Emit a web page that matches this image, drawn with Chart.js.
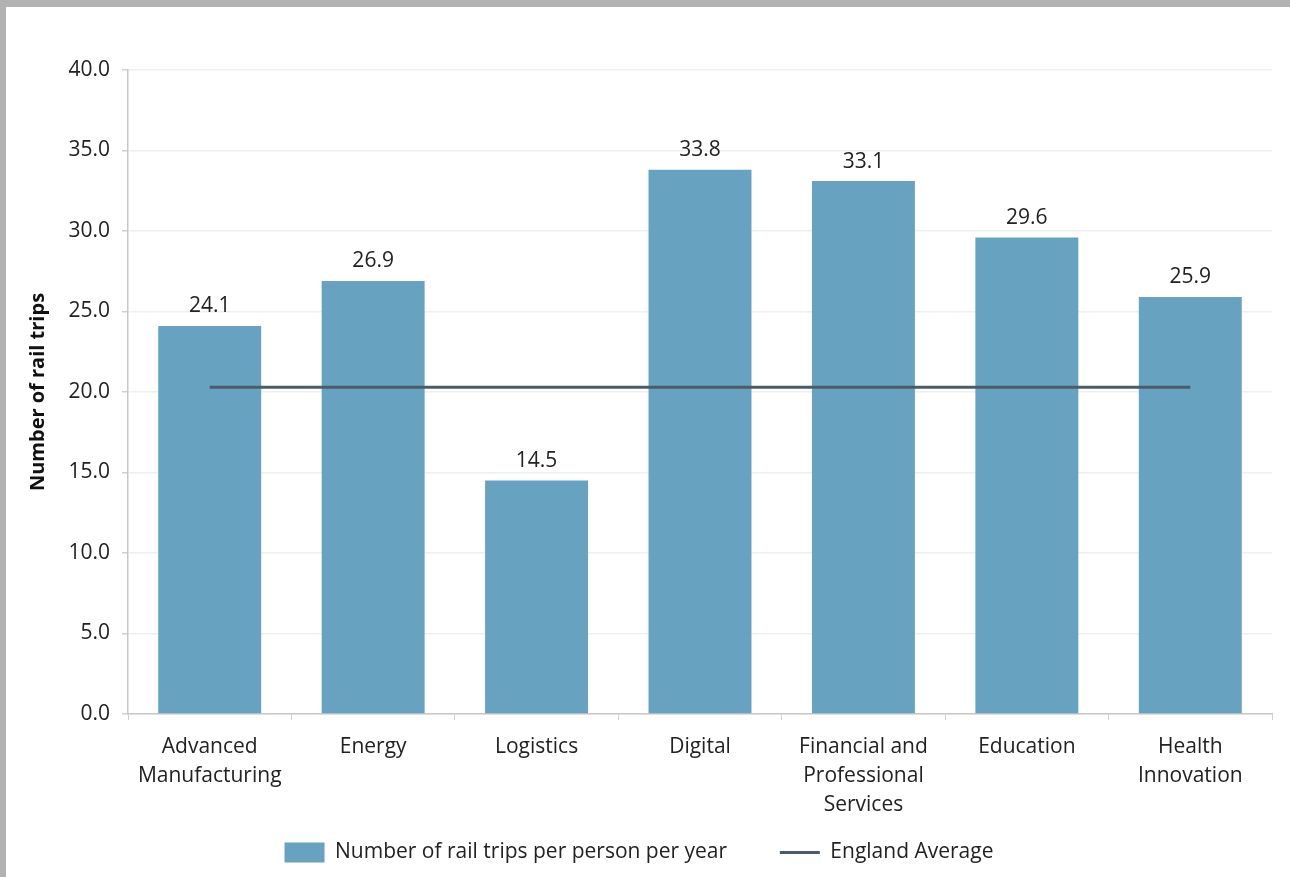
<!DOCTYPE html>
<html>
<head>
<meta charset="utf-8">
<script src="https://cdn.jsdelivr.net/npm/chart.js@4"></script>
<style>
  html, body { margin: 0; padding: 0; background: #b2b2b2; }
  #frame { position: absolute; left: 6px; top: 7px; width: 1284px; height: 870px; background: #fff; }
</style>
</head>
<body>
<div id="frame"><canvas id="myChart" width="1284" height="870"></canvas></div>
<script>
const categories = [
  ["Advanced", "Manufacturing"],
  "Energy",
  "Logistics",
  "Digital",
  ["Financial and", "Professional", "Services"],
  "Education",
  ["Health", "Innovation"]
];
const railTrips = [24.1, 26.9, 14.5, 33.8, 33.1, 29.6, 25.9];
const englandAverage = [20.3, 20.3, 20.3, 20.3, 20.3, 20.3, 20.3];

const FONT = "'Open Sans', 'Noto Sans', sans-serif";

// values above the bars
const barLabels = {
  id: 'barLabels',
  afterDatasetsDraw(chart) {
    const ctx = chart.ctx;
    const meta = chart.getDatasetMeta(0);
    ctx.save();
    ctx.font = "21px " + FONT;
    ctx.fillStyle = "#222";
    ctx.textAlign = "center";
    ctx.textBaseline = "bottom";
    meta.data.forEach((bar, i) => {
      ctx.fillText(railTrips[i].toFixed(1), bar.x, bar.y - 9);
    });
    ctx.restore();
  }
};

const ctx = document.getElementById('myChart').getContext('2d');
new Chart(ctx, {
  type: 'bar',
  data: {
    labels: categories,
    datasets: [{
      type: 'bar',
      label: "Number of rail trips per person per year",
      data: railTrips,
      backgroundColor: "#67a3c1",
      borderWidth: 0,
      barPercentage: 0.63,
      categoryPercentage: 1,
      pointStyle: 'rect',
      order: 2
    }, {
      type: 'line',
      label: "England Average",
      data: englandAverage,
      borderColor: "#4a5c68",
      backgroundColor: "#4a5c68",
      borderWidth: 3,
      pointRadius: 0,
      pointStyle: 'line',
      fill: false,
      order: 1
    }]
  },
  options: {
    responsive: false,
    animation: false,
    layout: { padding: { top: 63, right: 18, left: 0, bottom: 4 } },
    plugins: {
      tooltip: { enabled: false },
      legend: {
        position: 'bottom',
        reverse: true,
        labels: {
          usePointStyle: true,
          pointStyleWidth: 40,
          boxHeight: 20,
          padding: 20,
          color: "#222",
          font: { family: FONT, size: 21 },
          generateLabels(chart) {
            const items = Chart.defaults.plugins.legend.labels.generateLabels(chart);
            // wider gap after the bar entry, like the original
            items.forEach(it => { if (it.datasetIndex === 0) it.text += "      "; });
            return items;
          }
        }
      }
    },
    scales: {
      x: {
        grid: { display: true, drawOnChartArea: false, offset: true, tickLength: 6, color: "#d0d0d0" },
        border: { color: "#c8c8c8", width: 1.5 },
        ticks: { color: "#222", font: { family: FONT, size: 21, lineHeight: 1.4 }, padding: 12, maxRotation: 0 },
        afterFit(scale) { scale.height = 108; }
      },
      y: {
        min: 0,
        max: 40,
        ticks: {
          stepSize: 5,
          color: "#222",
          padding: 12,
          font: { family: FONT, size: 21 },
          callback: (v) => Number(v).toFixed(1)
        },
        grid: { color: "#efefef", lineWidth: 1.5, tickLength: 6, tickColor: "#d0d0d0" },
        border: { color: "#c8c8c8", width: 1.5 },
        title: {
          display: true,
          text: "Number of rail trips",
          color: "#111",
          font: { family: FONT, size: 20, weight: 'bold' },
          padding: { top: 20, bottom: 0 }
        },
        afterFit(scale) { scale.width = 122; }
      }
    }
  },
  plugins: [barLabels]
});
</script>
</body>
</html>
